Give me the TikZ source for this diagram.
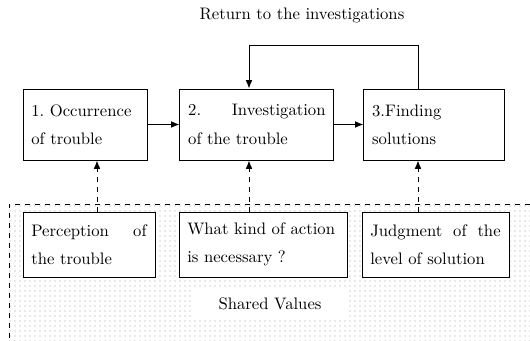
\documentclass[tikz,border=0pt]{standalone}
\usepackage{tikz}
\usetikzlibrary{arrows.meta}
\usetikzlibrary{patterns}
\usetikzlibrary{positioning}

\begin{document}
\begin{tikzpicture}[x=0.6pt,y=-0.6pt,>={Latex[length=5pt,width=4pt]},line width=0.55pt,
	stage node/.style={draw, fill=white, inner xsep=5pt, align=left, font=\fontsize{10}{17}\selectfont\frenchspacing, minimum height=42.6pt},
	value node/.style={draw, fill=white, inner xsep=5pt, align=left, font=\fontsize{10}{17}\selectfont\frenchspacing, minimum height=39pt}]
			\useasboundingbox (0,0) rectangle (530,341);
			% Shared values area
			\fill[pattern=dots, pattern color=gray!35] (9,204) rectangle (530,341);
			\draw[dashed, line width=0.45pt] (530,204) -- (9,204) -- (9,341);
			\node[fill=white, minimum width=93.6pt, minimum height=16.8pt] (sv) at (270,304) {Shared Values};
			
			% Stages
			\node[stage node, text width=64.4pt] (1) at (85,124.5) {1. Occurrence\\of trouble};
			\node[stage node, text width=82.4pt] (2) [right=19.2pt of 1] {2.\hfill Investigation\\of the trouble};
			\node[stage node, text width=74.6pt] (3) [right=17.4pt of 2] {3.Finding\\solutions};
			
			% Values
			\node[value node, text width=69.2pt] (4) at (89,244.5) {Perception\hfill of\\the trouble};
			\node[value node, text width=90.8pt] (5) at (263,244.5) {What kind of action\\is necessary ?};
			\node[value node, text width=78.2pt] (6) at (435.5,244.5) {Judgment\hfill of\hfill the\\level of solution};
			
			\coordinate (c1) at (97,0);
			\coordinate (c2) at (249,0);
			\coordinate (c3) at (418,0);
			
			\draw[->] (1) -- (2);
			\draw[->] (2) -- (3);
			\draw[->] (3.north -| c3) -- ++(0,-43) -| (2.north -| c2);
			\node (ret) at (302,15) {Return to the investigations};
			
			\draw[->, dashed] (4.north -| c1) -- (1.south -| c1);
			\draw[->, dashed] (5.north -| c2) -- (2.south -| c2);
			\draw[->, dashed] (6.north -| c3) -- (3.south -| c3);
			
		\end{tikzpicture}
\end{document}
